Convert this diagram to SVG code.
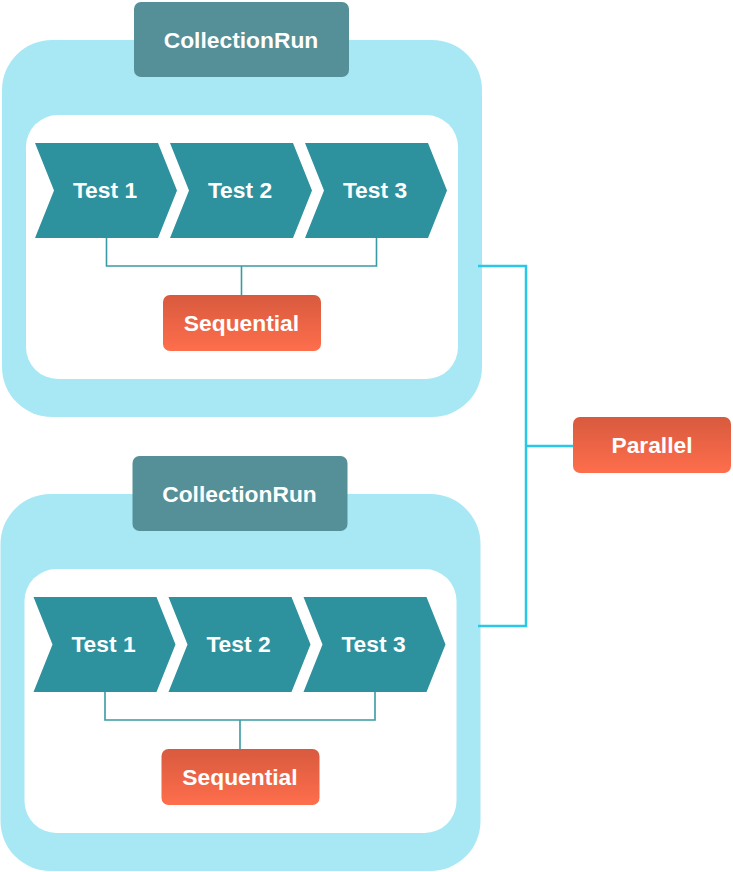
<svg xmlns="http://www.w3.org/2000/svg" width="733" height="872" viewBox="0 0 733 872">
  <defs>
    <linearGradient id="orange" x1="0" y1="0" x2="0" y2="1">
      <stop offset="0" stop-color="#d85a3e"/>
      <stop offset="1" stop-color="#fe6e4c"/>
    </linearGradient>
    <style>
      .outer { fill: #a8e8f4; }
      .inner { fill: #ffffff; }
      .title { fill: #558f97; }
      .chev { fill: #2e929e; }
      .orange { fill: url(#orange); }
      .lbl { font-family: "Liberation Sans", Arial, sans-serif; font-weight: bold; font-size: 22.8px; fill: #ffffff; text-anchor: middle; }
      .seqline { fill: none; stroke: #3a9aa4; stroke-width: 1.6; }
      .parline { fill: none; stroke: #29c8e8; stroke-width: 2.5; }
    </style>
    <g id="run">
      <rect class="outer" x="2" y="40" width="480" height="377" rx="50" ry="50"/>
      <rect class="inner" x="26" y="115" width="432" height="264" rx="32" ry="32"/>
      <rect class="title" x="134" y="2" width="215" height="75" rx="7" ry="7"/>
      <text class="lbl" x="241" y="47.5">CollectionRun</text>
      <polygon class="chev" points="35,143 158,143 177,190.5 158,238 35,238 54,190.5"/>
      <text class="lbl" x="105" y="198">Test 1</text>
      <polygon class="chev" points="170,143 293,143 312,190.5 293,238 170,238 189,190.5"/>
      <text class="lbl" x="240" y="198">Test 2</text>
      <polygon class="chev" points="305,143 428,143 447,190.5 428,238 305,238 324,190.5"/>
      <text class="lbl" x="375" y="198">Test 3</text>
      <path class="seqline" d="M106.5,238 V266 H376.5 V238 M241.5,266 V295"/>
      <rect class="orange" x="163" y="295" width="158" height="56" rx="7" ry="7"/>
      <text class="lbl" x="241.5" y="330.5">Sequential</text>
    </g>
  </defs>
  <g id="collection-run-1">
    <use href="#run"/>
  </g>
  <g id="collection-run-2" transform="translate(-1.5,454)">
    <use href="#run"/>
  </g>
  <g id="connectors">
    <path class="parline" d="M478,266 H526 V626 H478 M526,446 H573"/>
  </g>
  <g id="parallel">
    <rect class="orange" x="573" y="417" width="158" height="56" rx="7" ry="7"/>
    <text class="lbl" x="652" y="452.5">Parallel</text>
  </g>
</svg>
